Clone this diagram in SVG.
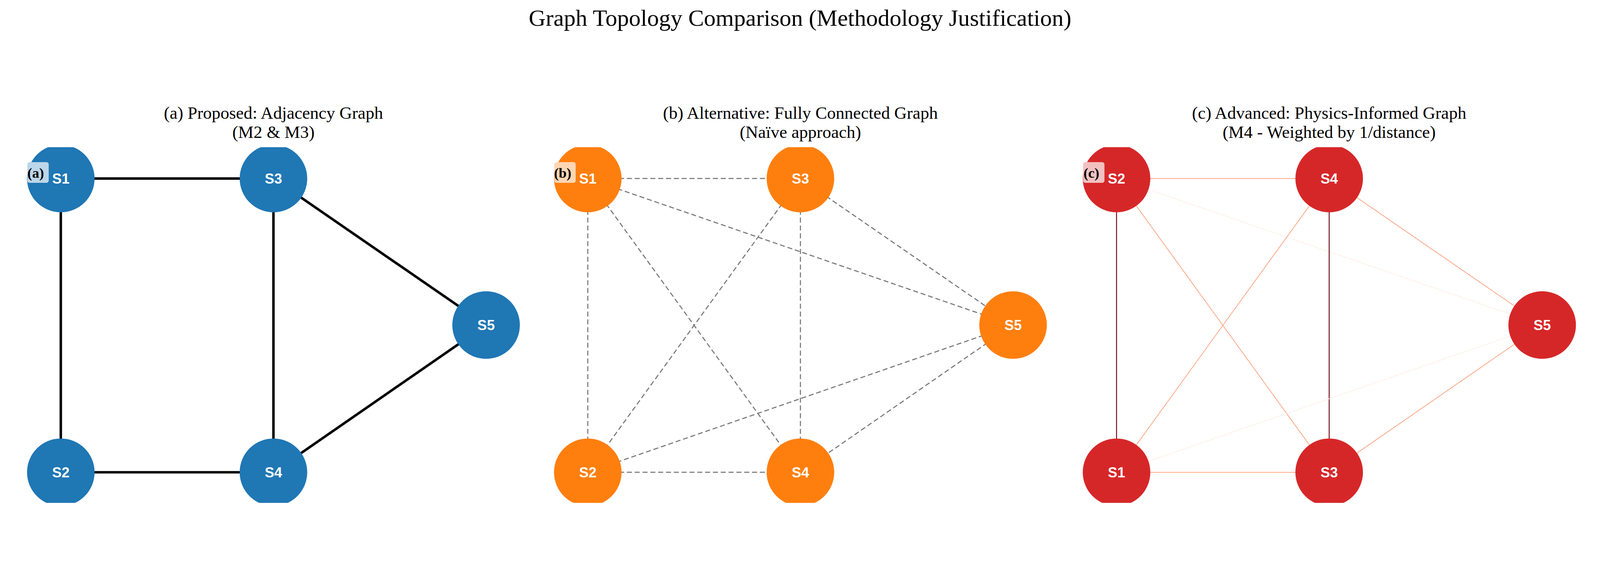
<svg xmlns="http://www.w3.org/2000/svg" width="4500" height="1500" viewBox="0 0 4500 1500">
<style>
.t{font-family:"Liberation Serif","Times New Roman",serif;fill:#000;text-anchor:middle}
.nl{font-family:"Liberation Sans",Arial,sans-serif;font-weight:bold;fill:#fff;text-anchor:middle;font-size:40px}
.pl{font-family:"Liberation Serif",serif;font-weight:bold;font-size:40px;fill:#000}
.a{fill:#1f77b4}.b{fill:#ff7f0e}.c{fill:#d62728}
.ea{stroke:#000;stroke-width:7}
.eb{stroke:#777;stroke-width:3;stroke-dasharray:14 8}
.cd{stroke:#67000d;stroke-width:2.5}
.cs{stroke:#fca98a;stroke-width:2.2}
.cf{stroke:#fff0e8;stroke-width:2}
</style>
<defs><clipPath id="clip"><rect x="0" y="414" width="4500" height="1000"/></clipPath></defs>
<g transform="scale(0.9103)">
<text class="t" x="2250" y="72" font-size="66">Graph Topology Comparison (Methodology Justification)</text>
<text class="t" x="769" y="334" font-size="49">(a) Proposed: Adjacency Graph</text>
<text class="t" x="769" y="388" font-size="49">(M2 &amp; M3)</text>
<text class="t" x="2251" y="334" font-size="49">(b) Alternative: Fully Connected Graph</text>
<text class="t" x="2251" y="388" font-size="49">(Naïve approach)</text>
<text class="t" x="3738" y="334" font-size="49">(c) Advanced: Physics-Informed Graph</text>
<text class="t" x="3738" y="388" font-size="49">(M4 - Weighted by 1/distance)</text>
<g id="connectors" clip-path="url(#clip)">
<line class="ea" x1="171" y1="502" x2="769" y2="502"/>
<line class="ea" x1="171" y1="502" x2="171" y2="1328"/>
<line class="ea" x1="769" y1="502" x2="769" y2="1328"/>
<line class="ea" x1="769" y1="502" x2="1367" y2="914"/>
<line class="ea" x1="171" y1="1328" x2="769" y2="1328"/>
<line class="ea" x1="769" y1="1328" x2="1367" y2="914"/>
<line class="eb" x1="1653" y1="502" x2="2251" y2="502"/>
<line class="eb" x1="1653" y1="502" x2="2849" y2="914"/>
<line class="eb" x1="1653" y1="502" x2="1653" y2="1328"/>
<line class="eb" x1="1653" y1="502" x2="2251" y2="1328"/>
<line class="eb" x1="2251" y1="502" x2="2849" y2="914"/>
<line class="eb" x1="2251" y1="502" x2="1653" y2="1328"/>
<line class="eb" x1="2251" y1="502" x2="2251" y2="1328"/>
<line class="eb" x1="2849" y1="914" x2="1653" y2="1328"/>
<line class="eb" x1="2849" y1="914" x2="2251" y2="1328"/>
<line class="eb" x1="1653" y1="1328" x2="2251" y2="1328"/>
<line class="cs" x1="3140" y1="502" x2="3738" y2="502"/>
<line class="cd" x1="3140" y1="502" x2="3140" y2="1328"/>
<line class="cs" x1="3140" y1="502" x2="3738" y2="1328"/>
<line class="cf" x1="3140" y1="502" x2="4337" y2="914"/>
<line class="cs" x1="3738" y1="502" x2="3140" y2="1328"/>
<line class="cd" x1="3738" y1="502" x2="3738" y2="1328"/>
<line class="cs" x1="3738" y1="502" x2="4337" y2="914"/>
<line class="cs" x1="3140" y1="1328" x2="3738" y2="1328"/>
<line class="cf" x1="3140" y1="1328" x2="4337" y2="914"/>
<line class="cs" x1="3738" y1="1328" x2="4337" y2="914"/>
</g>
<g clip-path="url(#clip)">
<g id="a-S1"><circle class="a" cx="171" cy="502" r="95"/><text class="nl" x="171" y="516">S1</text></g>
<g id="a-S3"><circle class="a" cx="769" cy="502" r="95"/><text class="nl" x="769" y="516">S3</text></g>
<g id="a-S5"><circle class="a" cx="1367" cy="914" r="95"/><text class="nl" x="1367" y="928">S5</text></g>
<g id="a-S2"><circle class="a" cx="171" cy="1328" r="95"/><text class="nl" x="171" y="1342">S2</text></g>
<g id="a-S4"><circle class="a" cx="769" cy="1328" r="95"/><text class="nl" x="769" y="1342">S4</text></g>
<g id="b-S1"><circle class="b" cx="1653" cy="502" r="95"/><text class="nl" x="1653" y="516">S1</text></g>
<g id="b-S3"><circle class="b" cx="2251" cy="502" r="95"/><text class="nl" x="2251" y="516">S3</text></g>
<g id="b-S5"><circle class="b" cx="2849" cy="914" r="95"/><text class="nl" x="2849" y="928">S5</text></g>
<g id="b-S2"><circle class="b" cx="1653" cy="1328" r="95"/><text class="nl" x="1653" y="1342">S2</text></g>
<g id="b-S4"><circle class="b" cx="2251" cy="1328" r="95"/><text class="nl" x="2251" y="1342">S4</text></g>
<g id="c-S2"><circle class="c" cx="3140" cy="502" r="95"/><text class="nl" x="3140" y="516">S2</text></g>
<g id="c-S4"><circle class="c" cx="3738" cy="502" r="95"/><text class="nl" x="3738" y="516">S4</text></g>
<g id="c-S5"><circle class="c" cx="4337" cy="914" r="95"/><text class="nl" x="4337" y="928">S5</text></g>
<g id="c-S1"><circle class="c" cx="3140" cy="1328" r="95"/><text class="nl" x="3140" y="1342">S1</text></g>
<g id="c-S3"><circle class="c" cx="3738" cy="1328" r="95"/><text class="nl" x="3738" y="1342">S3</text></g>
</g>
<g id="label-a"><rect x="77" y="456" width="60" height="58" rx="6" fill="#bcd6ea"/><text class="pl" x="77" y="500">(a)</text></g>
<g id="label-b"><rect x="1559" y="456" width="60" height="58" rx="6" fill="#ffd6b3"/><text class="pl" x="1558" y="500">(b)</text></g>
<g id="label-c"><rect x="3046" y="456" width="60" height="58" rx="6" fill="#f2c0c0"/><text class="pl" x="3047" y="500">(c)</text></g>
</g>
</svg>
